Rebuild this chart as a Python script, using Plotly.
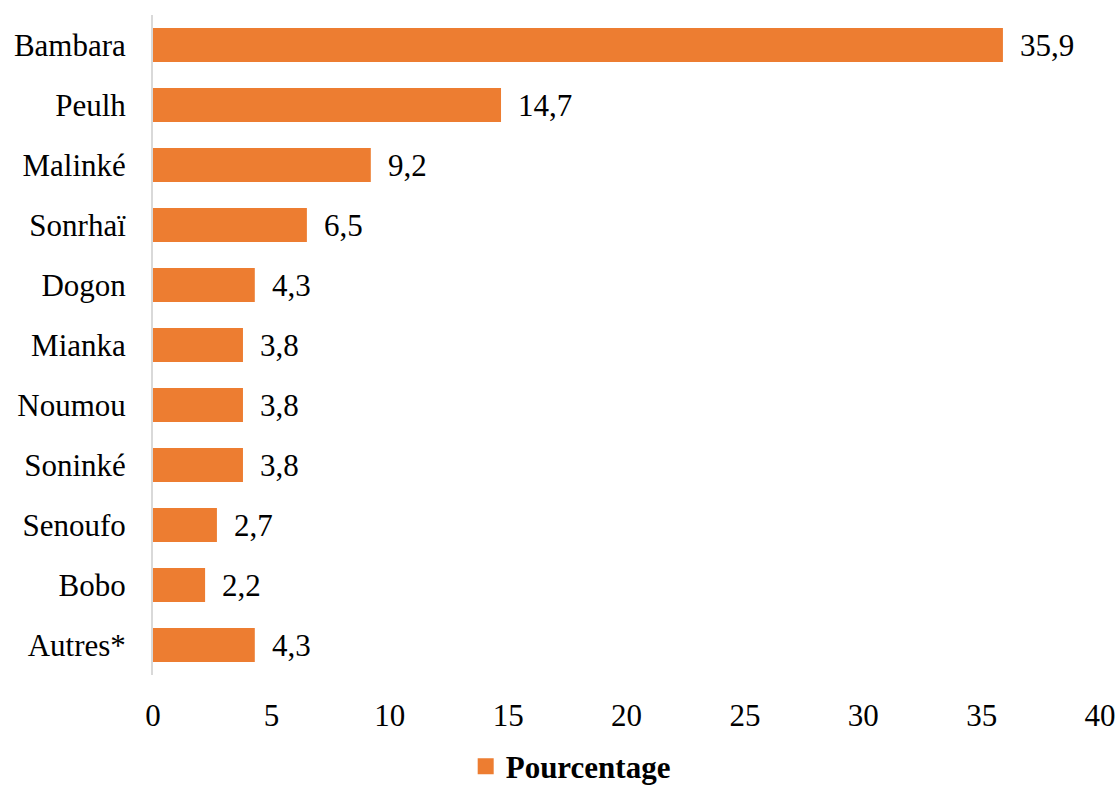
import plotly.graph_objects as go

categories = ["Bambara", "Peulh", "Malinké", "Sonrhaï", "Dogon", "Mianka",
              "Noumou", "Soninké", "Senoufo", "Bobo", "Autres*"]
values = [35.9, 14.7, 9.2, 6.5, 4.3, 3.8, 3.8, 3.8, 2.7, 2.2, 4.3]
labels = [f"{v:.1f}".replace(".", ",") for v in values]
x_ticks = [0, 5, 10, 15, 20, 25, 30, 35, 40]

FONT = "Liberation Serif, Times New Roman, serif"
ORANGE = "#ED7D31"

fig = go.Figure()
fig.add_trace(go.Bar(
    y=categories, x=values, orientation="h",
    marker=dict(color=ORANGE, line=dict(width=0)),
    showlegend=False,
))
fig.add_trace(go.Scatter(
    x=[None], y=[None], mode="markers",
    marker=dict(symbol="square", size=16, color=ORANGE),
    name="<b>Pourcentage</b>", showlegend=True,
))

for c, v, t in zip(categories, values, labels):
    fig.add_annotation(x=v, y=c, text=t, showarrow=False, xanchor="left",
                       xshift=15, font=dict(family=FONT, size=31, color="#000"))

fig.update_layout(
    width=1119, height=787,
    margin=dict(l=153, r=19, t=15, b=112, autoexpand=False),
    paper_bgcolor="white", plot_bgcolor="white",
    font=dict(family=FONT, size=31, color="#000"),
    bargap=0.43,
    showlegend=True,
    legend=dict(orientation="h", xref="container", yref="container",
                x=0.51, xanchor="center", y=0.026, yanchor="middle",
                font=dict(family=FONT, size=31, color="#000"), itemwidth=30),
    xaxis=dict(range=[0, 40], tickvals=x_ticks, ticktext=[str(t) for t in x_ticks],
               showgrid=False, zeroline=False, showline=False, ticks="",
               automargin=False,
               ticklabelstandoff=19, tickfont=dict(family=FONT, size=31)),
    yaxis=dict(categoryorder="array", categoryarray=categories[::-1],
               showgrid=False, zeroline=False, showline=True, linecolor="#D9D9D9",
               linewidth=2, ticks="", ticklabelstandoff=19, automargin=False,
               tickfont=dict(family=FONT, size=31)),
)

fig.write_html("out.html")
